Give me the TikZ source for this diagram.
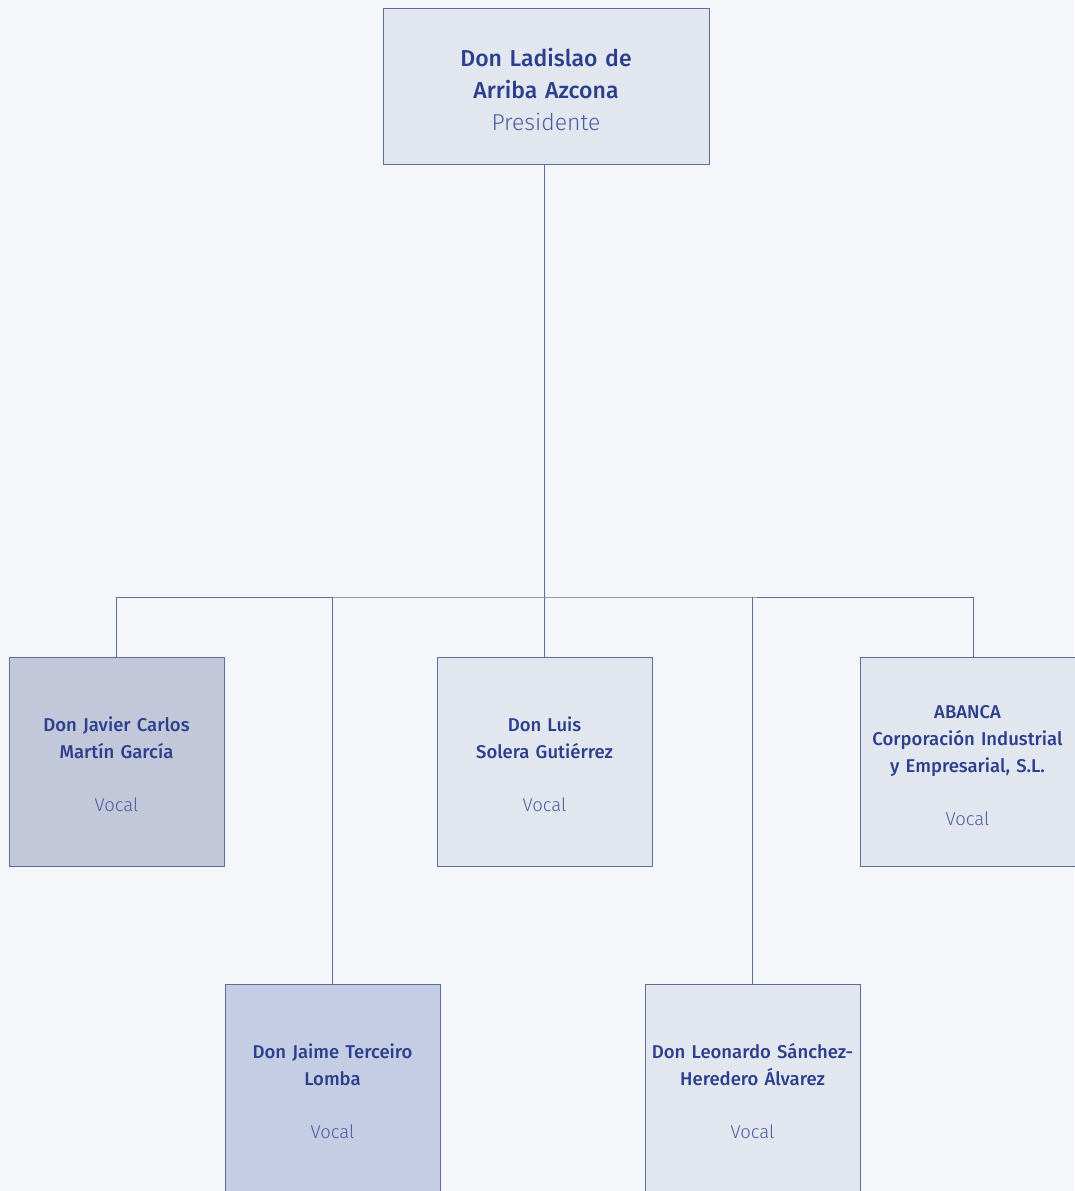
\documentclass[tikz,border=0pt]{standalone}
\usepackage{fontspec}
\setmainfont{Fira Sans}
\newfontfamily\namefont{Fira Sans Medium}
\newfontfamily\rolefont{Fira Sans Light}
\definecolor{bgcol}{HTML}{F4F6FA}
\definecolor{paleblue}{HTML}{E2E6EF}
\definecolor{greyblue}{HTML}{C2C7D9}
\definecolor{softblue}{HTML}{C5CDE4}
\definecolor{edgecol}{HTML}{5C6E9A}
\definecolor{namecol}{HTML}{2B3F8C}
\definecolor{rolecol}{HTML}{4B5E9E}
\newcommand{\member}[2]{{\namefont\rule{0pt}{21pt}#1}\\[26pt]{\rolefont\color{rolecol} #2}}

\begin{document}
\begin{tikzpicture}[x=1pt,y=-1pt,
  seat/.style={draw=edgecol,line width=0.8pt,fill=paleblue,inner sep=0pt,
    minimum width=215pt,minimum height=209pt,text width=214pt,align=center,
    text=namecol,font=\fontsize{18.5}{27}\selectfont},
  link/.style={draw=edgecol,line width=0.8pt}]
\useasboundingbox[fill=bgcol] (0,0) rectangle (1074,1191);

% Presidente
\node[seat,minimum width=326pt,minimum height=156pt,text width=320pt,
  font=\fontsize{23}{32}\selectfont] (pres) at (546,86)
  {{\namefont\rule{0pt}{26pt}Don Ladislao de\\Arriba Azcona}\\{\rolefont\color{rolecol}Presidente}};

% Vocales, first row
\node[seat,fill=greyblue] (javier) at (116.5,761.5) {\member{Don Javier Carlos\\Martín García}{Vocal}};
\node[seat] (luis) at (544.5,761.5) {\member{Don Luis\\Solera Gutiérrez}{Vocal}};
\node[seat] (abanca) at (967.5,761.5) {\member{ABANCA\\Corporación Industrial\\y Empresarial, S.L.}{Vocal}};

% Vocales, second row
\node[seat,fill=softblue] (jaime) at (332.5,1088.5) {\member{Don Jaime Terceiro\\Lomba}{Vocal}};
\node[seat] (leonardo) at (752.5,1088.5) {\member{Don Leonardo Sánchez-\\Heredero Álvarez}{Vocal}};

% Lines
\coordinate (bus) at (544.5,597);
\draw[link] (pres.south -| luis.north) -- (luis.north);
\draw[link] (javier.north) |- (bus) -| ([xshift=5.5pt]abanca.north);
\draw[link] (jaime.north) -- (jaime.north |- bus);
\draw[link] (leonardo.north) -- (leonardo.north |- bus);
\end{tikzpicture}
\end{document}
